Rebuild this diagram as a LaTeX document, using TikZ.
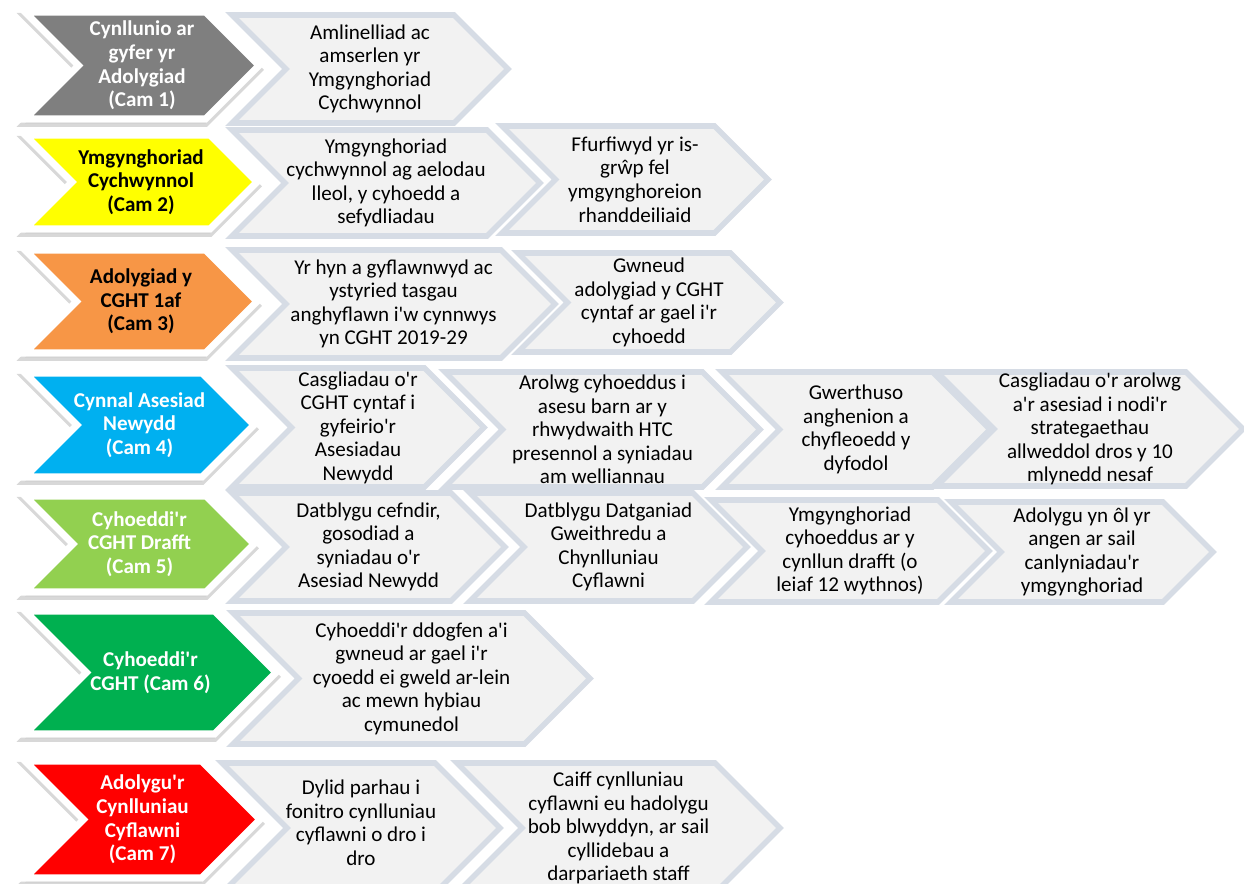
\documentclass[tikz,border=0pt]{standalone}
\usepackage{fontspec}
\newfontfamily\chartfont{Carlito}
\usetikzlibrary{shapes.symbols,shadows}

\definecolor{camgrey}{HTML}{7F7F7F}
\definecolor{camyellow}{HTML}{FFFF00}
\definecolor{camorange}{HTML}{F79646}
\definecolor{camblue}{HTML}{00B0F0}
\definecolor{camlime}{HTML}{92D050}
\definecolor{camgreen}{HTML}{00B050}
\definecolor{camred}{HTML}{FF0000}
\definecolor{taskfill}{HTML}{F2F2F2}
\definecolor{taskline}{HTML}{D6DCE5}

\begin{document}
\begin{tikzpicture}[x=0.02cm, y=-0.02cm,
    chev/.style={signal, signal from=west, signal to=east, signal pointer angle=90, inner sep=0pt},
    dims/.style 2 args={minimum width=#1*0.02cm, minimum height=#2*0.02cm},
    stage/.style={chev, fill=#1, draw=white, line width=4pt,
      general shadow={draw=black!30, fill=black!30, line width=4pt, opacity=.5, shadow yshift=-2.5pt}},
    task/.style={chev, fill=taskfill, draw=taskline, line width=3.2pt},
    stagetxt/.style={font=\chartfont\fontsize{12}{13.4}\selectfont\bfseries, align=center, text=#1},
    tasktxt/.style={font=\chartfont\fontsize{12}{13.4}\selectfont, align=center}]
    \useasboundingbox (0,0) rectangle (1244,884);

    % Cam 1
    \node[stage=camgrey, dims={234}{107}] (c1) at (142,65.5) {};
    \node[stagetxt=white] (c1t) at (c1) {Cynllunio ar\\gyfer yr\\Adolygiad\\(Cam 1)};
    \node[task, dims={276}{108}] (s11) at (370,69) {};
    \node[tasktxt] (s11t) at (s11) {Amlinelliad ac\\amserlen yr\\Ymgynghoriad\\Cychwynnol};

    % Cam 2
    \node[stage=camyellow, dims={232}{94}] (c2) at (141,182) {};
    \node[stagetxt=black] (c2t) at (c2) {Ymgynghoriad\\Cychwynnol\\(Cam 2)};
    \node[task, dims={308}{106}] (s21) at (386,183) {};
    \node[tasktxt] (s21t) at (s21) {Ymgynghoriad\\cychwynnol ag aelodau\\lleol, y cyhoedd a\\sefydliadau};
    \node[task, dims={266}{107}] (s22) at (635,179.5) {};
    \node[tasktxt] (s22t) at (s22) {Ffurfiwyd yr is-\\grŵp fel\\ymgynghoreion\\rhanddeiliaid};

    % Cam 3
    \node[stage=camorange, dims={232}{103}] (c3) at (141,301.5) {};
    \node[stagetxt=black] (c3t) at (c3) {Adolygiad y\\CGHT 1af\\(Cam 3)};
    \node[task, dims={323}{108}] (s31) at (393.5,304) {};
    \node[tasktxt] (s31t) at (s31) {Yr hyn a gyflawnwyd ac\\ystyried tasgau\\anghyflawn i'w cynnwys\\yn CGHT 2019-29};
    \node[task, dims={262}{99}] (s32) at (649,302.5) {};
    \node[tasktxt] (s32t) at (s32) {Gwneud\\adolygiad y CGHT\\cyntaf ar gael i'r\\cyhoedd};

    % Cam 4
    \node[stage=camblue, dims={229}{104}] (c4) at (139.5,425) {};
    \node[stagetxt=white] (c4t) at (c4) {Cynnal Asesiad\\Newydd\\(Cam 4)};
    \node[task, dims={252}{119}] (s41) at (358,427.5) {};
    \node[tasktxt] (s41t) at (s41) {Casgliadau o'r\\CGHT cyntaf i\\gyfeirio'r\\Asesiadau\\Newydd};
    \node[task, dims={315}{115}] (s42) at (602.5,429.5) {};
    \node[tasktxt] (s42t) at (s42) {Arolwg cyhoeddus i\\asesu barn ar y\\rhwydwaith HTC\\presennol a syniadau\\am welliannau};
    \node[task, dims={268}{115}] (s43) at (856,429.5) {};
    \node[tasktxt] (s43t) at (s43) {Gwerthuso\\anghenion a\\chyfleoedd y\\dyfodol};
    \node[task, dims={306}{114}] (s44) at (1090,429) {};
    \node[tasktxt] (s44t) at (s44) {Casgliadau o'r arolwg\\a'r asesiad i nodi'r\\strategaethau\\allweddol dros y 10\\mlynedd nesaf};

    % Cam 5
    \node[stage=camlime, dims={229}{96}] (c5) at (139.5,544) {};
    \node[stagetxt=white] (c5t) at (c5) {Cyhoeddi'r\\CGHT Drafft\\(Cam 5)};
    \node[task, dims={273}{108}] (s51) at (368.5,547) {};
    \node[tasktxt] (s51t) at (s51) {Datblygu cefndir,\\gosodiad a\\syniadau o'r\\Asesiad Newydd};
    \node[task, dims={277}{108}] (s52) at (608.5,547) {};
    \node[tasktxt] (s52t) at (s52) {Datblygu Datganiad\\Gweithredu a\\Chynlluniau\\Cyflawni};
    \node[task, dims={278}{102}] (s53) at (850,551) {};
    \node[tasktxt] (s53t) at (s53) {Ymgynghoriad\\cyhoeddus ar y\\cynllun drafft (o\\leiaf 12 wythnos)};
    \node[task, dims={262}{100}] (s54) at (1082,552) {};
    \node[tasktxt] (s54t) at (s54) {Adolygu yn ôl yr\\angen ar sail\\canlyniadau'r\\ymgynghoriad};

    % Cam 6
    \node[stage=camgreen, dims={251}{123}] (c6) at (150.5,672.5) {};
    \node[stagetxt=white] (c6t) at (c6) {Cyhoeddi'r\\CGHT (Cam 6)};
    \node[task, dims={357}{131}] (s61) at (411.5,678.5) {};
    \node[tasktxt] (s61t) at (s61) {Cyhoeddi'r ddogfen a'i\\gwneud ar gael i'r\\cyoedd ei gweld ar-lein\\ac mewn hybiau\\cymunedol};

    % Cam 7
    \node[stage=camred, dims={235}{117}] (c7) at (142.5,819.5) {};
    \node[stagetxt=white] (c7t) at (c7) {Adolygu'r\\Cynlluniau\\Cyflawni\\(Cam 7)};
    \node[task, dims={278}{130}] (s71) at (361,828) {};
    \node[tasktxt] (s71t) at ([yshift=3pt]s71) {Dylid parhau i\\fonitro cynlluniau\\cyflawni o dro i\\dro};
    \node[task, dims={323}{130}] (s72) at (618.5,828) {};
    \node[tasktxt] (s72t) at (s72) {Caiff cynlluniau\\cyflawni eu hadolygu\\bob blwyddyn, ar sail\\cyllidebau a\\darpariaeth staff};
\end{tikzpicture}
\end{document}
